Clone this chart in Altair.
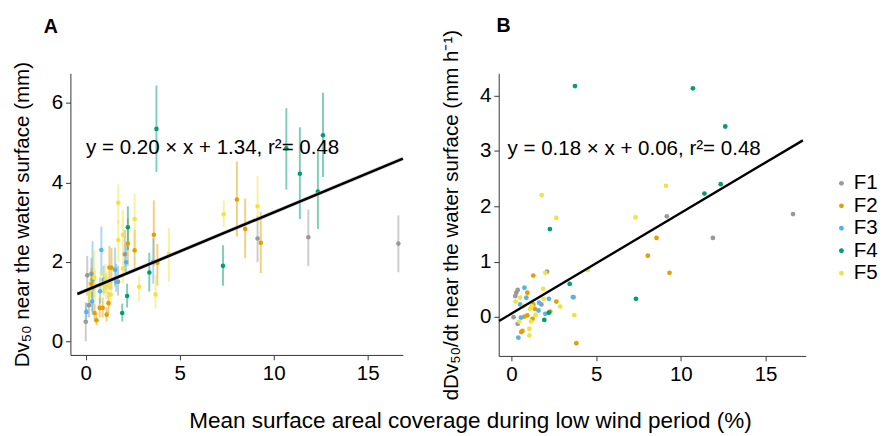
import altair as alt
import pandas as pd

FONT = "Liberation Sans"

series_names = ["F1", "F2", "F3", "F4", "F5"]
series_colors = ["#999999", "#E69F00", "#56B4E9", "#009E73", "#F0E442"]

# ---------- Panel A: Dv50 with error bars ----------
a_series = (["F1"] * 10 + ["F2"] * 16 + ["F3"] * 10 + ["F4"] * 10 + ["F5"] * 20)
a_x = [0.00, 0.08, 0.17, 0.30, 0.35, 1.72, 2.08, 9.14, 11.84, 16.63,
       0.47, 0.57, 0.74, 0.90, 1.11, 1.21, 1.26, 1.37, 0.30, 2.60, 2.24, 3.62, 3.81, 8.04, 8.48, 9.31,
       0.03, 0.34, 0.36, 0.76, 0.83, 1.56, 1.62, 2.15, 3.59, 0.95,
       1.94, 2.20, 2.24, 3.38, 3.76, 7.30, 10.67, 11.39, 12.35, 12.62,
       0.15, 0.45, 0.50, 0.80, 0.95, 1.05, 1.07, 1.15, 1.33, 1.73, 1.73, 1.98, 1.98, 2.60, 2.84, 3.71, 4.42, 7.34, 9.14, 0.25]
a_y = [0.49, 1.66, 0.91, 1.70, 1.35, 1.50, 2.19, 2.59, 2.62, 2.46,
       0.71, 0.53, 0.84, 0.84, 0.67, 0.96, 1.86, 1.85, 1.45, 2.29, 2.46, 2.68, 1.98, 3.57, 2.83, 2.48,
       0.74, 1.00, 1.55, 1.26, 2.30, 1.80, 1.50, 1.99, 2.00, 1.55,
       0.71, 1.14, 2.87, 1.73, 5.35, 1.90, 4.86, 4.22, 3.77, 5.19,
       1.21, 1.60, 1.40, 1.45, 1.43, 1.55, 1.37, 1.40, 1.17, 2.55, 3.49, 2.68, 1.83, 3.08, 1.37, 1.18, 2.20, 3.20, 3.40, 1.30]
a_lo = [0.00, 1.15, 0.60, 1.30, 1.00, 1.15, 1.75, 1.99, 1.89, 1.74,
        0.50, 0.40, 0.60, 0.60, 0.50, 0.70, 1.30, 1.30, 1.10, 1.76, 1.90, 1.90, 1.40, 2.64, 2.09, 1.72,
        0.55, 0.75, 0.67, 0.95, 1.66, 1.37, 1.25, 1.69, 1.45, 1.20,
        0.50, 0.85, 2.30, 1.25, 4.27, 1.40, 3.82, 3.08, 2.83, 4.14,
        0.95, 1.10, 1.00, 1.10, 1.15, 1.20, 1.05, 1.10, 0.90, 2.00, 2.95, 2.20, 1.45, 2.24, 1.00, 0.82, 1.50, 2.88, 2.95, 1.00]
a_hi = [0.98, 2.15, 1.25, 2.10, 1.70, 1.90, 2.80, 3.16, 3.32, 3.17,
        0.95, 0.70, 1.10, 1.10, 0.85, 1.25, 2.40, 2.35, 1.85, 2.81, 3.10, 3.55, 2.45, 4.53, 3.59, 3.26,
        0.95, 1.25, 2.52, 1.60, 2.89, 2.36, 1.95, 2.44, 2.60, 1.90,
        0.95, 1.45, 3.40, 2.23, 6.44, 2.42, 5.87, 5.39, 4.78, 6.26,
        1.50, 2.30, 1.80, 1.80, 1.75, 1.95, 1.70, 1.75, 1.45, 3.05, 3.95, 3.30, 2.20, 3.72, 1.65, 1.66, 2.85, 3.55, 4.16, 1.60]

fit_a_x = [-0.45, 16.87]
fit_a_y = [1.19, 4.60]

# ---------- Panel B: dDv50/dt ----------
b_series = (["F1"] * 10 + ["F2"] * 16 + ["F3"] * 10 + ["F4"] * 10 + ["F5"] * 20)
b_x = [0.37, 0.23, 0.29, 0.13, 0.37, 1.77, 2.10, 9.17, 11.89, 16.62,
       8.56, 8.05, 9.33, 3.67, 3.83, 2.65, 2.29, 1.29, 0.94, 1.29, 1.38, 0.94, 0.77, 1.25, 0.58, 0.65,
       3.63, 2.21, 2.00, 1.63, 1.60, 0.77, 0.88, 0.52, 0.56, 0.41,
       3.75, 10.71, 12.62, 12.35, 11.39, 2.27, 7.35, 3.44, 2.21, 1.94,
       1.79, 9.12, 7.33, 2.65, 2.00, 4.50, 3.71, 2.88, 1.90, 1.87, 0.52, 0.25, 0.71, 1.10, 1.20, 1.42, 1.15, 0.46, 1.06, 1.06]
b_y = [0.49, 0.38, 0.44, 0.00, -0.12, 0.23, 0.82, 1.82, 1.43, 1.86,
       1.43, 1.11, 0.80, 0.36, -0.47, 0.28, 0.10, 0.75, 0.44, 0.23, 0.15, 0.03, 0.01, -0.03, -0.27, -0.25,
       0.36, 0.33, 0.06, 0.26, 0.12, 0.53, 0.35, 0.23, -0.01, -0.37,
       4.17, 4.13, 3.44, 2.40, 2.23, 1.59, 0.33, 0.60, 0.08, -0.05,
       2.20, 2.37, 1.80, 1.79, 0.80, 0.85, 0.035, 0.19, 0.33, 0.51, 0.35, 0.28, 0.20, 0.15, 0.20, 0.04, -0.08, -0.08, -0.21, -0.33]

fit_b_x = [-0.73, 17.20]
fit_b_y = [-0.07, 3.19]

label_a = "y = 0.20 × x + 1.34, r²= 0.48"
label_b = "y = 0.18 × x + 0.06, r²= 0.48"

df_a = pd.DataFrame({"series": a_series, "x": a_x, "y": a_y, "lo": a_lo, "hi": a_hi})
df_b = pd.DataFrame({"series": b_series, "x": b_x, "y": b_y})
fa = pd.DataFrame({"x": fit_a_x, "y": fit_a_y})
fb = pd.DataFrame({"x": fit_b_x, "y": fit_b_y})

cscale = alt.Scale(domain=series_names, range=series_colors)

# Panel A
xa = alt.X("x:Q", scale=alt.Scale(domain=[-0.817, 16.87], nice=False, zero=False),
           axis=alt.Axis(values=[0, 5, 10, 15], title=None))
ya = alt.Y("y:Q", scale=alt.Scale(domain=[-0.345, 6.75], nice=False, zero=False),
           axis=alt.Axis(values=[0, 2, 4, 6], title="Dv₅₀ near the water surface (mm)", titlePadding=19))

bars_a = alt.Chart(df_a).mark_rule(strokeWidth=2, opacity=0.5).encode(
    x=xa, y=alt.Y("lo:Q"), y2="hi:Q",
    color=alt.Color("series:N", scale=cscale, legend=None))
pts_a = alt.Chart(df_a).mark_circle(size=22, opacity=1).encode(
    x=xa, y=ya, color=alt.Color("series:N", scale=cscale, legend=None))
halo_a = alt.Chart(fa).mark_line(color="#bbbbbb", strokeWidth=4, opacity=0.6).encode(x=xa, y=ya)
line_a = alt.Chart(fa).mark_line(color="black", strokeWidth=2.6).encode(x=xa, y=ya)
txt_a = alt.Chart(pd.DataFrame({"t": [label_a]})).mark_text(
    align="left", baseline="middle", font=FONT, fontSize=21, color="black").encode(
    text="t:N", x=alt.value(16), y=alt.value(77))
tag_a = alt.Chart(pd.DataFrame({"t": ["A"]})).mark_text(
    align="center", baseline="middle", font=FONT, fontSize=20, fontWeight="bold", color="black").encode(
    text="t:N", x=alt.value(-20), y=alt.value(-47))

panel_a = alt.layer(bars_a, pts_a, halo_a, line_a, txt_a, tag_a).properties(width=340, height=288)

# Panel B
xb = alt.X("x:Q", scale=alt.Scale(domain=[-0.75, 17.37], nice=False, zero=False),
           axis=alt.Axis(values=[0, 5, 10, 15], title=None))
yb = alt.Y("y:Q", scale=alt.Scale(domain=[-0.70, 4.40], nice=False, zero=False),
           axis=alt.Axis(values=[0, 1, 2, 3, 4], title="dDv₅₀/dt near the water surface (mm h⁻¹)",
                         titlePadding=18))

pts_b = alt.Chart(df_b).mark_circle(size=24, opacity=1).encode(
    x=xb, y=yb,
    color=alt.Color("series:N", scale=cscale,
                    legend=alt.Legend(title=None, orient="none", legendX=340, legendY=102,
                                      labelFont=FONT, labelFontSize=21, labelColor="black",
                                      symbolType="circle", symbolSize=25, symbolStrokeWidth=0,
                                      labelOffset=2, rowPadding=1, padding=0)))
line_b = alt.Chart(fb).mark_line(color="black", strokeWidth=2.4).encode(x=xb, y=yb)
txt_b = alt.Chart(pd.DataFrame({"t": [label_b]})).mark_text(
    align="left", baseline="middle", font=FONT, fontSize=21, color="black").encode(
    text="t:N", x=alt.value(9), y=alt.value(78))
tag_b = alt.Chart(pd.DataFrame({"t": ["B"]})).mark_text(
    align="center", baseline="middle", font=FONT, fontSize=20, fontWeight="bold", color="black").encode(
    text="t:N", x=alt.value(5), y=alt.value(-48))

panel_b = alt.layer(pts_b, line_b, txt_b, tag_b).properties(width=314, height=289)

chart = alt.hconcat(panel_a, panel_b, spacing=31).resolve_legend(color="independent").properties(
    title=alt.TitleParams(text="Mean surface areal coverage during low wind period (%)",
                          orient="bottom", anchor="middle", font=FONT, fontSize=23,
                          fontWeight="normal", color="black", offset=11, dx=26),
    padding={"left": 12, "top": 12, "right": 5, "bottom": 2},
).configure_view(stroke=None).configure_axis(
    grid=False, domainColor="#333333", tickColor="#333333", domainWidth=1, tickWidth=1,
    tickSize=5, labelPadding=3, labelFont=FONT, labelFontSize=21, labelColor="black",
    titleFont=FONT, titleFontSize=21, titleFontWeight="normal", titleColor="black",
)

chart.save("out.html", embed_options={"renderer": "svg", "actions": False})
